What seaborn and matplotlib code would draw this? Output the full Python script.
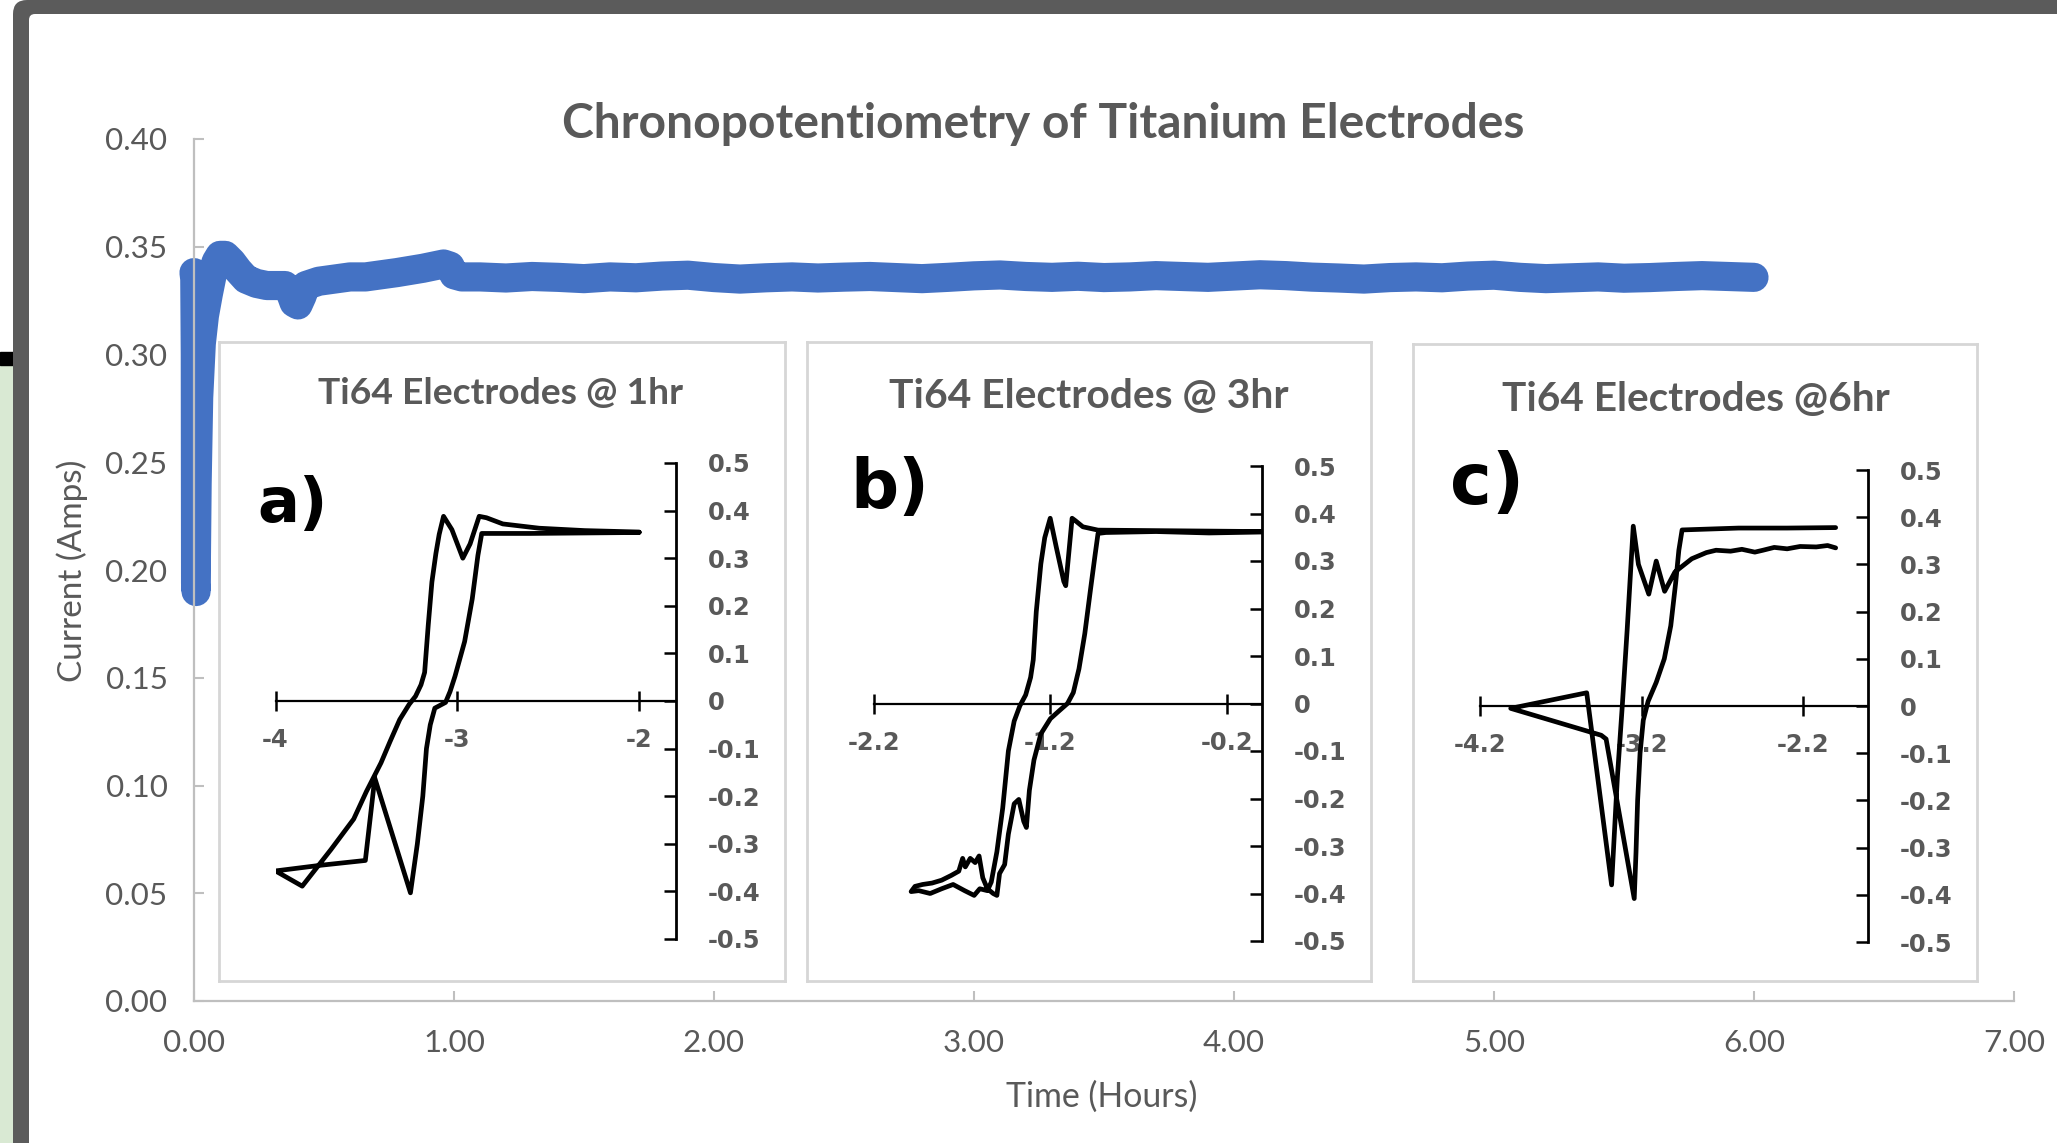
import numpy as np
import matplotlib
matplotlib.use("Agg")
import matplotlib.pyplot as plt
from matplotlib.patches import Rectangle, FancyBboxPatch
import seaborn as sns

# ---------------- data ----------------
main_t = [0.000, 0.003, 0.005, 0.006, 0.008, 0.012, 0.018, 0.028, 0.040, 0.055,
          0.070, 0.085, 0.100, 0.120, 0.145, 0.170, 0.200, 0.240, 0.280, 0.320,
          0.350, 0.370, 0.385, 0.400, 0.415, 0.430, 0.480, 0.540, 0.600, 0.660,
          0.720, 0.780, 0.830, 0.880, 0.920, 0.960, 0.985, 1.000, 1.030,
          1.1, 1.2, 1.3, 1.4, 1.5, 1.6, 1.7, 1.8, 1.9, 2.0,
          2.1, 2.2, 2.3, 2.4, 2.5, 2.6, 2.7, 2.8, 2.9, 3.0,
          3.1, 3.2, 3.3, 3.4, 3.5, 3.6, 3.7, 3.8, 3.9, 4.0,
          4.1, 4.2, 4.3, 4.4, 4.5, 4.6, 4.7, 4.8, 4.9, 5.0,
          5.1, 5.2, 5.3, 5.4, 5.5, 5.6, 5.7, 5.8, 5.9, 6.0]
main_current = [0.338, 0.335, 0.300, 0.194, 0.190, 0.240, 0.280, 0.305, 0.318, 0.328,
                0.337, 0.343, 0.346, 0.346, 0.343, 0.339, 0.335, 0.333, 0.332, 0.332,
                0.332, 0.329, 0.324, 0.323, 0.327, 0.332, 0.334, 0.335, 0.336, 0.336,
                0.337, 0.338, 0.339, 0.340, 0.341, 0.342, 0.341, 0.337, 0.336,
                0.3360, 0.3355, 0.3362, 0.3358, 0.3352, 0.3360, 0.3356, 0.3364, 0.3368, 0.3357,
                0.3350, 0.3356, 0.3360, 0.3355, 0.3359, 0.3362, 0.3357, 0.3352, 0.3358, 0.3365,
                0.3369, 0.3362, 0.3358, 0.3363, 0.3357, 0.3360, 0.3366, 0.3362, 0.3358, 0.3364,
                0.3370, 0.3366, 0.3359, 0.3355, 0.3350, 0.3357, 0.3360, 0.3356, 0.3364, 0.3368,
                0.3358, 0.3352, 0.3356, 0.3360, 0.3354, 0.3357, 0.3362, 0.3366, 0.3362, 0.3358]

main_xticks = [0, 1, 2, 3, 4, 5, 6, 7]
main_xticklabels = ["0.00", "1.00", "2.00", "3.00", "4.00", "5.00", "6.00", "7.00"]
main_yticks = [0.00, 0.05, 0.10, 0.15, 0.20, 0.25, 0.30, 0.35, 0.40]
main_yticklabels = ["0.00", "0.05", "0.10", "0.15", "0.20", "0.25", "0.30", "0.35", "0.40"]

a_potential = [-2.00, -2.30, -2.55, -2.75, -2.84, -2.88, -2.93, -2.97, -3.03, -3.076,
               -3.10, -3.118, -3.14, -3.16, -3.18, -3.20, -3.23, -3.265, -3.317, -3.37,
               -3.42, -3.50, -3.57, -3.695, -3.853, -4.00, -3.75, -3.506, -3.454, -3.258,
               -3.22, -3.19, -3.17, -3.149, -3.124, -3.065, -3.04, -3.013, -2.96, -2.918,
               -2.887, -2.866, -2.60, -2.30, -2.00]
a_current = [0.355, 0.358, 0.363, 0.372, 0.385, 0.388, 0.330, 0.300, 0.360, 0.388,
             0.350, 0.310, 0.250, 0.160, 0.060, 0.034, 0.010, -0.007, -0.039, -0.085,
             -0.130, -0.190, -0.248, -0.312, -0.389, -0.357, -0.345, -0.335, -0.162, -0.403,
             -0.300, -0.200, -0.100, -0.050, -0.015, -0.003, 0.020, 0.052, 0.125, 0.215,
             0.306, 0.352, 0.352, 0.353, 0.354]

b_potential = [0.00, -0.929, -1.015, -1.058, -1.076, -1.112, -1.123, -1.166, -1.20, -1.231,
               -1.253, -1.279, -1.296, -1.311, -1.339, -1.372, -1.404, -1.437, -1.469, -1.502,
               -1.534, -1.556, -1.599, -1.631, -1.685, -1.75, -1.815, -1.88, -1.945, -1.988,
               -1.966, -1.923, -1.869, -1.815, -1.761, -1.718, -1.696, -1.681, -1.653, -1.625,
               -1.603, -1.582, -1.556, -1.523, -1.502, -1.487, -1.458, -1.437, -1.404, -1.378,
               -1.35, -1.335, -1.318, -1.292, -1.253, -1.199, -1.145, -1.102, -1.069, -1.037,
               -1.004, -0.972, -0.946, -0.929, -0.885, -0.60, -0.30, 0.00]
b_current = [0.362, 0.365, 0.372, 0.385, 0.390, 0.248, 0.257, 0.330, 0.390, 0.349,
             0.294, 0.193, 0.092, 0.055, 0.018, -0.005, -0.037, -0.100, -0.220, -0.312,
             -0.376, -0.394, -0.390, -0.404, -0.394, -0.381, -0.390, -0.400, -0.394, -0.396,
             -0.385, -0.381, -0.378, -0.372, -0.362, -0.353, -0.326, -0.344, -0.326, -0.335,
             -0.321, -0.367, -0.390, -0.400, -0.404, -0.358, -0.339, -0.275, -0.211, -0.202,
             -0.248, -0.261, -0.183, -0.119, -0.064, -0.032, -0.014, 0.000, 0.023, 0.073,
             0.147, 0.239, 0.312, 0.358, 0.360, 0.362, 0.359, 0.361]

c_potential = [-2.00, -2.30, -2.60, -2.95, -2.97, -2.99, -3.02, -3.06, -3.11, -3.16,
               -3.19, -3.21, -3.225, -3.235, -3.246, -3.42, -3.45, -4.01, -3.54, -3.386,
               -3.35, -3.32, -3.29, -3.252, -3.22, -3.156, -3.11, -3.058, -2.994, -2.942,
               -2.89, -2.80, -2.74, -2.65, -2.58, -2.50, -2.45, -2.38, -2.30, -2.22,
               -2.12, -2.05, -2.00]
c_current = [0.378, 0.377, 0.377, 0.373, 0.330, 0.260, 0.170, 0.100, 0.050, 0.010,
             -0.030, -0.100, -0.200, -0.310, -0.408, -0.070, -0.062, -0.005, 0.028, -0.379,
             -0.150, 0.000, 0.160, 0.381, 0.300, 0.237, 0.307, 0.243, 0.284, 0.298,
             0.312, 0.325, 0.330, 0.328, 0.332, 0.326, 0.330, 0.336, 0.333, 0.338,
             0.337, 0.340, 0.335]

inset_yticks = [0.5, 0.4, 0.3, 0.2, 0.1, 0.0, -0.1, -0.2, -0.3, -0.4, -0.5]
inset_yticklabels = ["0.5", "0.4", "0.3", "0.2", "0.1", "0", "-0.1", "-0.2", "-0.3", "-0.4", "-0.5"]
a_xticks, a_xticklabels = [-4, -3, -2], ["-4", "-3", "-2"]
b_xticks, b_xticklabels = [-2.2, -1.2, -0.2], ["-2.2", "-1.2", "-0.2"]
c_xticks, c_xticklabels = [-4.2, -3.2, -2.2], ["-4.2", "-3.2", "-2.2"]

title = "Chronopotentiometry of Titanium Electrodes"
xlabel = "Time (Hours)"
ylabel = "Current (Amps)"
inset_titles = ["Ti64 Electrodes @ 1hr", "Ti64 Electrodes @ 3hr", "Ti64 Electrodes @6hr"]
inset_letters = ["a)", "b)", "c)"]

# ---------------- figure ----------------
sns.set_theme(style="white")
plt.rcParams["font.family"] = ["Lato", "DejaVu Sans"]

W, H = 2057, 1143
fig = plt.figure(figsize=(W / 100, H / 100), dpi=100)
GRAY_TXT = "#595959"
AXIS_GRAY = "#bfbfbf"


def px_rect(x0, y0, x1, y1):
    return [x0 / W, 1 - y1 / H, (x1 - x0) / W, (y1 - y0) / H]


def fx(x):
    return x / W


def fy(y):
    return 1 - y / H


renderer = fig.canvas.get_renderer()


def fit(text, target, dim="w", base=20, **kw):
    t = fig.text(0.5, 0.5, text, fontsize=base, **kw)
    bb = t.get_window_extent(renderer=renderer)
    t.remove()
    size = bb.width if dim == "w" else bb.height
    return base * target / size


# ---- background frame (screenshot border) ----
bg = fig.add_axes([0, 0, 1, 1], zorder=-10)
bg.set_xlim(0, W)
bg.set_ylim(H, 0)
bg.axis("off")
bg.add_patch(Rectangle((0, 0), W, H, color="white"))
bg.add_patch(Rectangle((0, 364), 16, H, color="#d9e9d3"))
bg.add_patch(Rectangle((0, 352), 16, 13, color="black"))
bg.add_patch(FancyBboxPatch((13, 0), W + 100, H + 100,
                            boxstyle="round,pad=0,rounding_size=14",
                            facecolor="#5b5b5b", edgecolor="none"))
bg.add_patch(FancyBboxPatch((29, 14), W + 100, H + 100,
                            boxstyle="round,pad=0,rounding_size=6",
                            facecolor="white", edgecolor="none"))

# ---- main axes ----
ax = fig.add_axes(px_rect(194, 139, 2014, 1001))
ax.set_facecolor("none")
sns.lineplot(x=main_t, y=main_current, sort=False, estimator=None, ax=ax,
             color="#4472C4", linewidth=21, solid_capstyle="round",
             solid_joinstyle="round", clip_on=False, zorder=2)
ax.set_xlim(0, 7)
ax.set_ylim(0, 0.40)
for s in ["top", "right"]:
    ax.spines[s].set_visible(False)
for s in ["left", "bottom"]:
    ax.spines[s].set_color(AXIS_GRAY)
    ax.spines[s].set_linewidth(1.6)

tick_fs = fit("0.40", 62, family="Lato")
ax.set_xticks(main_xticks)
ax.set_xticklabels(main_xticklabels)
ax.set_yticks(main_yticks)
ax.set_yticklabels(main_yticklabels)
ax.tick_params(axis="both", direction="in", length=7, width=1.5, color=AXIS_GRAY,
               labelsize=tick_fs, labelcolor=GRAY_TXT)
ax.tick_params(axis="y", pad=19, left=True, right=False)
ax.tick_params(axis="x", pad=20, bottom=True, top=False)
ax.set_xlabel("")
ax.set_ylabel("")
ax.grid(False)

fig.text(fx(1043), fy(124), title, ha="center", va="center", color=GRAY_TXT,
         fontweight="bold", fontsize=fit(title, 963, family="Lato", fontweight="bold"))
fig.text(fx(1102), fy(1097), xlabel, ha="center", va="center", color=GRAY_TXT,
         fontsize=fit(xlabel, 192, family="Lato"))
fig.text(fx(72), fy(571), ylabel, ha="center", va="center", color=GRAY_TXT,
         rotation=90, fontsize=fit(ylabel, 223, family="Lato"))

# ---- insets ----
inset_specs = [
    dict(box=(219, 342, 785, 981), data=(275.5, 463, 675.6, 939), xlim=(-4, -1.8),
         V=a_potential, I=a_current, xt=a_xticks, xtl=a_xticklabels,
         tc=(501, 394), tw=366, lc=(291, 505), lw=59),
    dict(box=(807, 342, 1371, 981), data=(873.7, 466, 1262, 941), xlim=(-2.2, 0.0),
         V=b_potential, I=b_current, xt=b_xticks, xtl=b_xticklabels,
         tc=(1089, 396), tw=399, lc=(888, 489), lw=66),
    dict(box=(1413, 344, 1977, 981), data=(1480, 470, 1868, 942), xlim=(-4.2, -1.8),
         V=c_potential, I=c_current, xt=c_xticks, xtl=c_xticklabels,
         tc=(1696, 400), tw=388, lc=(1485, 485), lw=62),
]

inset_fs = fit("-0.5", 53, family="DejaVu Sans", fontweight="bold")

for i, sp in enumerate(inset_specs):
    box = fig.add_axes(px_rect(*sp["box"]), zorder=3)
    box.set_xticks([])
    box.set_yticks([])
    box.set_facecolor("white")
    for s in box.spines.values():
        s.set_visible(True)
        s.set_color("#d6d6d6")
        s.set_linewidth(2.0)

    iax = fig.add_axes(px_rect(*sp["data"]), zorder=4)
    iax.set_facecolor("none")
    sns.lineplot(x=sp["V"], y=sp["I"], sort=False, estimator=None, ax=iax,
                 color="black", linewidth=3.4, solid_joinstyle="round",
                 solid_capstyle="round")
    iax.set_xlim(*sp["xlim"])
    iax.set_ylim(-0.5, 0.5)
    iax.spines["top"].set_visible(False)
    iax.spines["left"].set_visible(False)
    iax.spines["bottom"].set_visible(True)
    iax.spines["right"].set_visible(True)
    iax.spines["bottom"].set_position(("data", 0))
    iax.spines["bottom"].set_color("black")
    iax.spines["bottom"].set_linewidth(1.6)
    iax.spines["right"].set_color("black")
    iax.spines["right"].set_linewidth(2.0)
    iax.yaxis.tick_right()
    iax.set_yticks(inset_yticks)
    iax.set_yticklabels(inset_yticklabels)
    iax.set_xticks(sp["xt"])
    iax.set_xticklabels(sp["xtl"])
    for lab in iax.get_xticklabels() + iax.get_yticklabels():
        lab.set_fontfamily("DejaVu Sans")
        lab.set_fontweight("bold")
    iax.tick_params(axis="y", direction="in", length=9, width=1.8, color="black",
                    pad=23, labelsize=inset_fs, labelcolor=GRAY_TXT,
                    right=True, left=False)
    iax.tick_params(axis="x", direction="inout", length=15, width=1.8, color="black",
                    pad=12, labelsize=inset_fs, labelcolor=GRAY_TXT,
                    bottom=True, top=False)
    iax.set_xlabel("")
    iax.set_ylabel("")
    iax.grid(False)

    fig.text(fx(sp["tc"][0]), fy(sp["tc"][1]), inset_titles[i], ha="center", va="center",
             color=GRAY_TXT, fontweight="bold", zorder=6,
             fontsize=fit(inset_titles[i], sp["tw"], family="Lato", fontweight="bold"))
    letter_fs = 1.2 * fit(inset_letters[i], sp["lw"], family="DejaVu Sans", fontweight="bold")
    fig.text(fx(sp["lc"][0] + 2), fy(sp["lc"][1]), inset_letters[i], ha="center", va="center",
             color="black", fontweight="bold", family="DejaVu Sans", zorder=6,
             fontsize=letter_fs)

fig.savefig("out.png", dpi=100)
